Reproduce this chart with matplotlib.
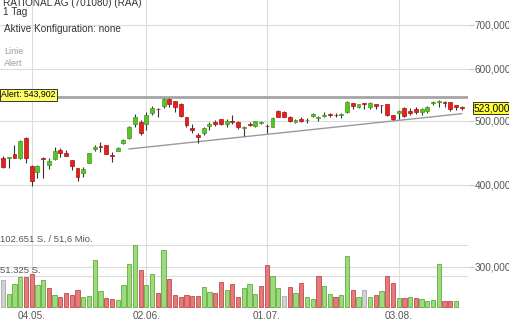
import matplotlib
matplotlib.use('Agg')
import matplotlib.pyplot as plt
from matplotlib import transforms
from matplotlib.ticker import NullLocator, NullFormatter

plt.rcParams['font.family'] = ['Liberation Sans', 'DejaVu Sans']

# ---------------- data ----------------
title = "RATIONAL AG (701080) (RAA)"
period = "1 Tag"
config_text = "Aktive Konfiguration: none"
legend_items = ["Linie", "Alert"]

opens = [439.6, 438.7, 444.9, 439.6, 470.6, 427.4, 417.7, 439.6, 428.5, 437.1,
         451.2, 447.4, 435.6, 423.6, 416.3, 432.0, 452.8, 457.6, 459.7, 444.3,
         450.6, 462.4, 470.6, 495.3, 498.3, 495.3, 514.9, 522.3, 527.0, 539.5,
         536.3, 530.6, 506.6, 488.6, 476.1, 478.9, 491.6, 498.3, 503.0, 495.3,
         499.4, 498.3, 487.5, 494.9, 491.6, 496.5, 491.9, 490.1, 518.4, 516.7,
         507.6, 497.7, 504.1, 501.2, 508.8, 504.7, 508.8, 512.5, 511.2, 511.2,
         516.7, 532.0, 525.7, 532.0, 525.7, 530.6, 529.2, 530.6, 510.6, 514.4,
         524.2, 518.4, 521.0, 516.7, 518.4, 532.6, 534.4, 534.4, 533.9, 528.8,
         524.5]
highs = [442.7, 441.1, 459.7, 467.8, 473.3, 428.5, 427.8, 441.1, 438.7, 457.2,
         454.3, 451.7, 436.1, 424.1, 426.0, 446.9, 458.9, 463.9, 460.2, 449.0,
         457.0, 469.5, 491.6, 512.5, 501.8, 516.7, 527.0, 522.6, 541.4, 541.4,
         537.2, 532.0, 507.0, 495.3, 478.9, 490.1, 498.3, 501.8, 503.5, 503.0,
         510.6, 500.0, 490.5, 498.3, 500.5, 500.0, 495.3, 506.6, 519.7, 517.0,
         508.0, 503.0, 507.6, 504.7, 514.8, 508.8, 516.7, 514.8, 513.6, 514.8,
         535.8, 533.1, 530.6, 532.6, 533.5, 531.0, 529.6, 531.0, 510.6, 518.8,
         526.0, 523.1, 524.9, 523.1, 527.0, 536.9, 538.2, 536.3, 534.2, 529.0,
         527.9]
lows = [423.6, 424.5, 438.7, 437.6, 431.1, 398.5, 409.9, 409.1, 422.6, 436.8,
        441.1, 441.5, 421.1, 405.2, 411.3, 431.6, 450.1, 448.0, 444.6, 433.5,
        450.1, 461.2, 469.5, 490.1, 476.1, 484.5, 510.6, 506.6, 523.1, 524.9,
        516.7, 507.6, 489.4, 479.9, 463.2, 476.1, 484.5, 491.6, 493.0, 490.1,
        494.7, 485.6, 474.4, 491.6, 489.4, 494.2, 478.9, 489.9, 506.6, 507.1,
        499.1, 496.0, 498.8, 497.0, 507.6, 500.5, 506.6, 507.6, 507.6, 504.7,
        514.9, 521.0, 523.1, 521.0, 521.0, 521.0, 514.4, 508.8, 501.8, 503.0,
        506.6, 510.6, 512.5, 510.6, 514.4, 528.8, 525.7, 525.7, 518.4, 519.7,
        519.7]
closes = [426.0, 440.2, 439.6, 466.2, 439.6, 405.6, 427.0, 438.1, 434.6, 450.1,
          447.4, 442.3, 427.4, 410.5, 422.6, 446.4, 457.0, 456.0, 444.9, 442.7,
          454.3, 467.8, 489.4, 507.6, 479.4, 510.6, 523.1, 520.8, 539.5, 530.6,
          525.7, 508.8, 493.0, 484.5, 472.3, 487.5, 495.3, 495.3, 494.2, 499.7,
          498.1, 489.4, 490.1, 493.5, 500.0, 497.7, 490.5, 505.9, 507.6, 507.6,
          500.0, 501.8, 500.5, 502.3, 511.9, 507.6, 510.6, 511.2, 510.1, 512.5,
          533.9, 527.5, 530.0, 530.0, 533.1, 527.5, 528.2, 510.6, 503.0, 518.4,
          509.4, 514.9, 516.7, 521.0, 525.7, 533.9, 535.8, 533.1, 521.0, 524.5,
          523.0]

volumes = [44500, 21800, 38400, 49000, 49500, 55000, 36700, 44000, 31200, 19100,
           15800, 23400, 20100, 27400, 16800, 17400, 77700, 25700, 14100, 13000,
           11800, 36700, 71600, 102651, 61100, 36700, 54000, 23400, 93800, 45700,
           19100, 16800, 20100, 18400, 18400, 32400, 24100, 22400, 41700, 27900,
           38400, 16300, 30700, 37900, 21300, 34100, 68900, 50700, 31200, 17900,
           32900, 22900, 39500, 16300, 12500, 51700, 34100, 21800, 16800, 19600,
           84400, 28400, 16300, 27400, 16800, 19100, 26200, 50700, 40000, 14100,
           14100, 16800, 14100, 12500, 10100, 11800, 71100, 9600, 9600, 9600]
# u = up, d = down, n = unchanged (vs. previous close)
volume_dir = list("nuuudduudu" "dddduuuudd" "uuuuduudud" "ddddduuddu"
                  "dduuudduun" "duduuduudu" "udunududdu" "duduuuuddu")

alert_level = 543.902
support_start = (22, 453.3)
support_end = (80, 513.0)

price_ticks = [300, 400, 500, 600, 700]
date_ticks = [5, 25, 46, 69]
date_labels = ["04.05.", "02.06.", "01.07.", "03.08."]

# ---------------- styling ----------------
W, H = 510, 320
fig = plt.figure(figsize=(W / 100, H / 100), dpi=100)
fig.patch.set_facecolor('white')

ax_l, ax_r, ax_t, ax_b = 0, 468, 0, 308
rect = [ax_l / W, 1 - ax_b / H, (ax_r - ax_l) / W, (ax_b - ax_t) / H]
ax = fig.add_axes(rect)
ax.set_yscale('log')
ax.set_ylim(259.6, 764.1)
ax.set_xlim(-0.523, 81.09)
for s in ax.spines.values():
    s.set_visible(False)
ax.patch.set_alpha(0)

grid_c = '#dcdcdc'
ax.yaxis.tick_right()
ax.set_yticks(price_ticks)
ax.set_yticklabels([f"{v:.3f}".replace('.', ',') for v in price_ticks])
ax.yaxis.set_minor_locator(NullLocator())
ax.yaxis.set_minor_formatter(NullFormatter())
ax.set_xticks(date_ticks)
ax.set_xticklabels(date_labels)
ax.tick_params(axis='y', length=4, width=0.8, color='#c8c8c8', pad=1,
               labelsize=7.2, labelcolor='#555555')
ax.tick_params(axis='x', length=0, pad=2, labelsize=7.2, labelcolor='#555555')
ax.grid(True, axis='both', color=grid_c, lw=0.8, zorder=0)
ax.set_axisbelow(True)

n = len(closes)
xs = list(range(n))
green, green_e = '#5cc22a', '#3c9a16'
red, red_e = '#e3211f', '#b01010'
body_w = 0.68

for i in xs:
    o, h, l, c = opens[i], highs[i], lows[i], closes[i]
    up = c >= o
    ax.vlines(i, l, h, color='#333333', lw=0.8, zorder=2)
    lo, hi = min(o, c), max(o, c)
    ax.bar(i, hi - lo, bottom=lo, width=body_w,
           color=green if up else red, edgecolor=green_e if up else red_e,
           lw=0.5, zorder=3)

# alert line and support line
ax.axhline(alert_level, color='#a5a5a5', lw=2.0, zorder=1.5)
ax.plot([support_start[0], support_end[0]], [support_start[1], support_end[1]],
        color='#9a9a9a', lw=1.0, zorder=1.5)

blend = ax.get_yaxis_transform()
ax.text(0.002, alert_level, f"Alert: {alert_level:.3f}".replace('.', ','),
        transform=transforms.offset_copy(blend, fig=fig, y=1.6, units='points'),
        ha='left', va='center', fontsize=6.3, color='black', zorder=6,
        bbox=dict(boxstyle='square,pad=0.15', fc='#ffff66', ec='#333333', lw=0.7))
ax.text(1.0, closes[-1], f"{closes[-1]:.3f}".replace('.', ','),
        transform=transforms.offset_copy(blend, fig=fig, x=4.2, units='points'),
        ha='left', va='center', fontsize=7.2, color='black', zorder=6, clip_on=False,
        bbox=dict(boxstyle='square,pad=0.12', fc='#ffff33', ec='#333333', lw=0.7))

# volume overlay
axv = fig.add_axes(rect)
axv.set_xlim(ax.get_xlim())
axv.set_ylim(-1993, 509600)
axv.axis('off')
axv.patch.set_alpha(0)
vmax = max(volumes)
axv.axhline(vmax, color=grid_c, lw=0.8, zorder=0)
axv.axhline(vmax / 2, color=grid_c, lw=0.8, zorder=0)
vol_face = {'u': '#9dd97d', 'd': '#e67a7a', 'n': '#d2d2d2'}
vol_edge = {'u': '#5fae3c', 'd': '#c24a4a', 'n': '#a8a8a8'}
for i, v in enumerate(volumes):
    d = volume_dir[i]
    axv.bar(i, v, width=0.74, color=vol_face[d], edgecolor=vol_edge[d], lw=0.6, zorder=2)
vblend = axv.get_yaxis_transform()
axv.text(0.001, vmax, f"{vmax:,} S. / 51,6 Mio.".replace(',', '.', 1),
         transform=transforms.offset_copy(vblend, fig=fig, y=0.7, units='points'),
         ha='left', va='bottom', fontsize=6.8, color='#555555')
axv.text(0.001, vmax / 2, f"{int(vmax / 2):,} S.".replace(',', '.'),
         transform=transforms.offset_copy(vblend, fig=fig, y=0.7, units='points'),
         ha='left', va='bottom', fontsize=6.8, color='#555555')

# header texts
def px(x, y):
    return x / W, 1 - y / H

fig.text(*px(3, 6), title, ha='left', va='baseline', fontsize=7.2, color='#333333')
fig.text(*px(3, 15), period, ha='left', va='baseline', fontsize=7.2, color='#333333')
fig.text(*px(4, 32), config_text, ha='left', va='baseline', fontsize=7.2, color='#333333')
fig.text(*px(4, 54.5), legend_items[0], ha='left', va='baseline', fontsize=6.5, color='#9a9a9a')
fig.text(*px(4, 66.5), legend_items[1], ha='left', va='baseline', fontsize=6.5, color='#9a9a9a')

fig.savefig('out.png', dpi=100, facecolor='white')
